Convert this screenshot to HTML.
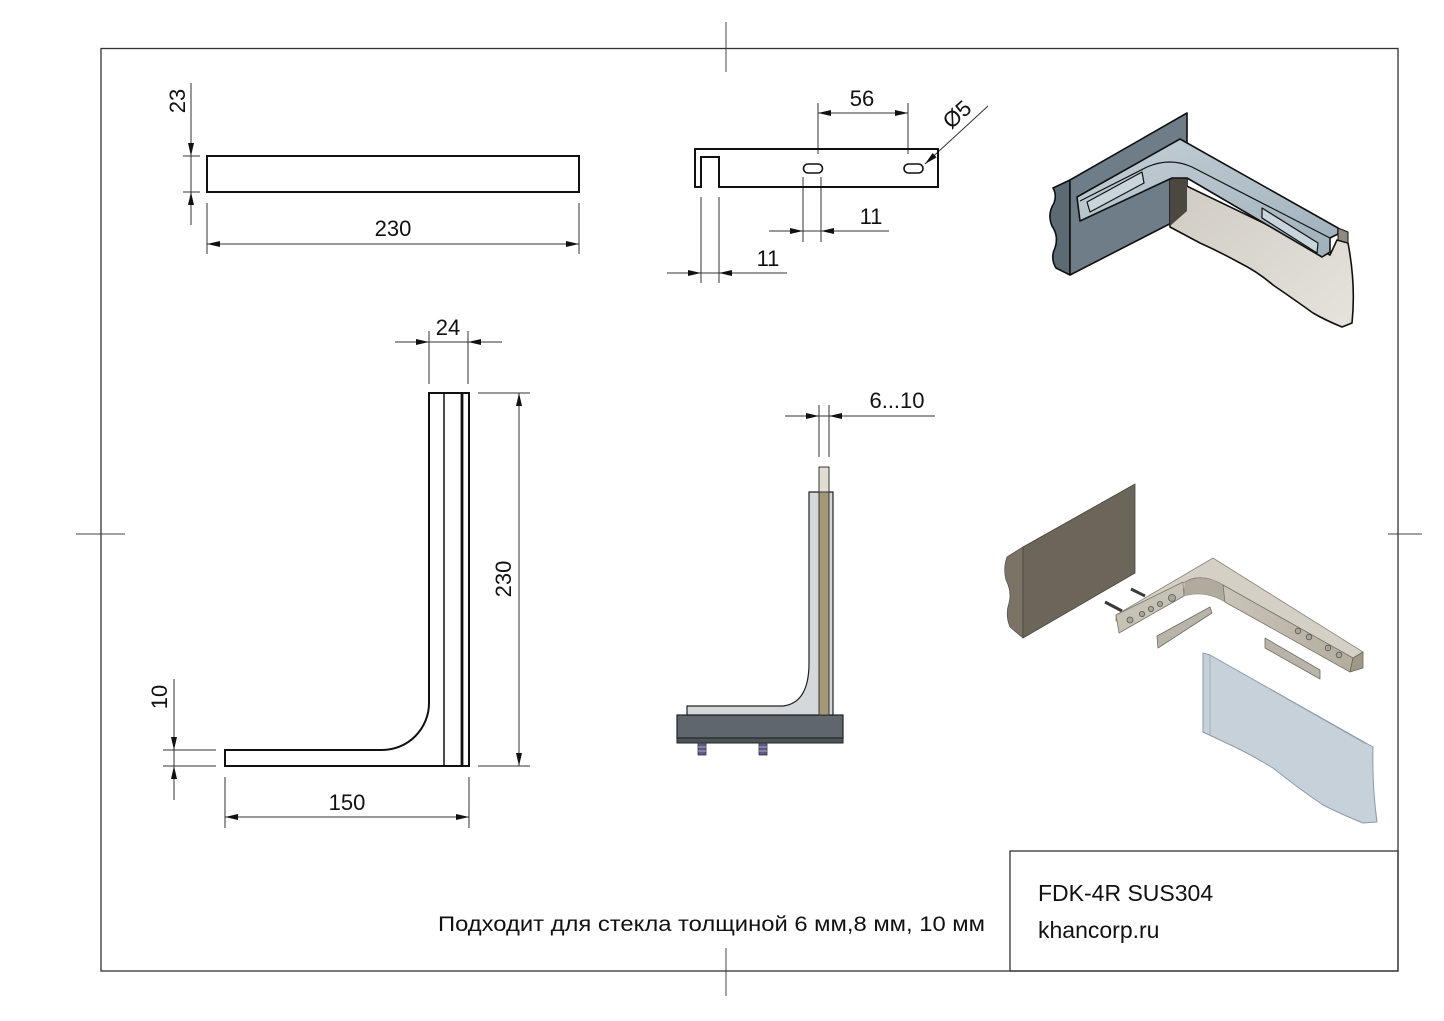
<!DOCTYPE html>
<html><head><meta charset="utf-8"><style>
html,body{margin:0;padding:0;background:#fff;overflow:hidden}
svg{display:block}
text{font-family:"Liberation Sans",Arial,sans-serif;fill:#111}
</style></head><body>
<svg width="1444" height="1021" viewBox="0 0 1444 1021" xmlns="http://www.w3.org/2000/svg">
<defs>
<linearGradient id="gBr" x1="0" y1="0" x2="1" y2="1"><stop offset="0" stop-color="#c5d0d7"/><stop offset="1" stop-color="#9fb0bb"/></linearGradient>
<linearGradient id="gGl" x1="0" y1="0" x2="1" y2="1"><stop offset="0" stop-color="#cfcbc2"/><stop offset="1" stop-color="#e6e3dd"/></linearGradient>
<linearGradient id="gBe" x1="0" y1="0" x2="1" y2="0"><stop offset="0" stop-color="#c9c4b8"/><stop offset="1" stop-color="#b3ad9f"/></linearGradient>
</defs>

<!-- frame -->
<rect x="101" y="48.5" width="1297" height="922.5" fill="none" stroke="#333" stroke-width="1.3"/>
<line x1="726" y1="22" x2="726" y2="72" stroke="#444" stroke-width="1"/>
<line x1="726" y1="948" x2="726" y2="996" stroke="#444" stroke-width="1"/>
<line x1="76" y1="534" x2="125" y2="534" stroke="#444" stroke-width="1"/>
<line x1="1388" y1="534" x2="1422" y2="534" stroke="#444" stroke-width="1"/>

<!-- title block -->
<rect x="1010" y="851" width="388" height="120" fill="none" stroke="#333" stroke-width="1.3"/>
<text x="1038" y="901" font-size="23">FDK-4R SUS304</text>
<text x="1038" y="938" font-size="23">khancorp.ru</text>
<text x="438" y="931" font-size="21" textLength="547" lengthAdjust="spacingAndGlyphs">Подходит для стекла толщиной 6 мм,8 мм, 10 мм</text>

<g stroke="#333" stroke-width="1" fill="none">
<!-- top view dims -->
<line x1="191" y1="83" x2="191" y2="225"/>
<line x1="183" y1="156" x2="200" y2="156"/>
<line x1="183" y1="192" x2="200" y2="192"/>
<line x1="207" y1="203" x2="207" y2="254"/>
<line x1="579" y1="203" x2="579" y2="254"/>
<line x1="207" y1="244" x2="579" y2="244"/>
<!-- top middle dims -->
<line x1="818" y1="103" x2="818" y2="154"/>
<line x1="908" y1="103" x2="908" y2="154"/>
<line x1="818" y1="113" x2="908" y2="113"/>
<line x1="803" y1="177" x2="803" y2="242"/>
<line x1="821" y1="177" x2="821" y2="242"/>
<line x1="769" y1="231" x2="889" y2="231"/>
<line x1="701" y1="197" x2="701" y2="283"/>
<line x1="719" y1="197" x2="719" y2="283"/>
<line x1="667" y1="273" x2="787" y2="273"/>
<line x1="988" y1="106" x2="925" y2="164"/>
<!-- L view dims -->
<line x1="429" y1="331" x2="429" y2="384"/>
<line x1="468" y1="331" x2="468" y2="384"/>
<line x1="395" y1="342" x2="502" y2="342"/>
<line x1="478" y1="393" x2="530" y2="393"/>
<line x1="478" y1="766" x2="530" y2="766"/>
<line x1="519" y1="393" x2="519" y2="766"/>
<line x1="163" y1="750" x2="216" y2="750"/>
<line x1="163" y1="766" x2="216" y2="766"/>
<line x1="174" y1="679" x2="174" y2="800"/>
<line x1="225" y1="777" x2="225" y2="828"/>
<line x1="469" y1="777" x2="469" y2="828"/>
<line x1="225" y1="817" x2="469" y2="817"/>
<!-- middle view dims -->
<line x1="819" y1="405" x2="819" y2="457"/>
<line x1="829" y1="405" x2="829" y2="457"/>
<line x1="785" y1="416" x2="935" y2="416"/>
</g>

<g fill="#111" stroke="none">
<polygon points="191,156 188,143 194,143"/>
<polygon points="191,192 188,205 194,205"/>
<polygon points="207,244 220,241 220,247"/>
<polygon points="579,244 566,241 566,247"/>
<polygon points="818,113 831,110 831,116"/>
<polygon points="908,113 895,110 895,116"/>
<polygon points="803,231 790,228 790,234"/>
<polygon points="821,231 834,228 834,234"/>
<polygon points="701,273 688,270 688,276"/>
<polygon points="719,273 732,270 732,276"/>
<polygon points="925,164 936.6,157.4 932.6,153"/>
<polygon points="429,342 416,339 416,345"/>
<polygon points="468,342 481,339 481,345"/>
<polygon points="519,393 516,406 522,406"/>
<polygon points="519,766 516,753 522,753"/>
<polygon points="174,750 171,737 177,737"/>
<polygon points="174,766 171,779 177,779"/>
<polygon points="225,817 238,814 238,820"/>
<polygon points="469,817 456,814 456,820"/>
<polygon points="819,416 806,413 806,419"/>
<polygon points="829,416 842,413 842,419"/>
</g>

<!-- dim texts -->
<g font-size="22" text-anchor="middle">
<text transform="translate(185,101) rotate(-90)">23</text>
<text x="393" y="236">230</text>
<text x="862" y="106">56</text>
<text x="871" y="224">11</text>
<text x="768" y="266">11</text>
<text transform="translate(962,120) rotate(-42)">Ø5</text>
<text x="448" y="335">24</text>
<text transform="translate(511,579) rotate(-90)">230</text>
<text transform="translate(167,697) rotate(-90)">10</text>
<text x="347" y="810">150</text>
<text x="897" y="408">6...10</text>
</g>

<!-- top view part -->
<rect x="207" y="156" width="372" height="36" fill="none" stroke="#111" stroke-width="2"/>
<!-- top middle part -->
<path d="M695,149 L938,149 L938,187 L719,187 L719,157 L701,157 L701,187 L695,187 Z" fill="none" stroke="#111" stroke-width="2"/>
<rect x="803.5" y="164" width="19" height="9" rx="4.5" fill="none" stroke="#111" stroke-width="1.6"/>
<rect x="904" y="164" width="19" height="9" rx="4.5" fill="none" stroke="#111" stroke-width="1.6"/>

<!-- L view -->
<path d="M429,393 L469,393 L469,766 L225,766 L225,750 L382,750 A47,47 0 0 0 429,703 Z" fill="none" stroke="#111" stroke-width="2"/>
<line x1="444" y1="393" x2="444" y2="766" stroke="#111" stroke-width="1.5"/>
<line x1="462" y1="393" x2="462" y2="766" stroke="#111" stroke-width="2.8"/>

<!-- middle side view -->
<rect x="677" y="715" width="166" height="23" fill="#5f676c" stroke="#222" stroke-width="1.2"/>
<rect x="677" y="738" width="166" height="5" fill="#4d5458" stroke="#222" stroke-width="1"/>
<rect x="698" y="743" width="8" height="12" fill="#5c5c8c" stroke="#333" stroke-width="0.8"/>
<rect x="759" y="743" width="8" height="12" fill="#5c5c8c" stroke="#333" stroke-width="0.8"/>
<line x1="698" y1="747" x2="706" y2="747" stroke="#aab" stroke-width="1"/>
<line x1="698" y1="751" x2="706" y2="751" stroke="#aab" stroke-width="1"/>
<line x1="759" y1="747" x2="767" y2="747" stroke="#aab" stroke-width="1"/>
<line x1="759" y1="751" x2="767" y2="751" stroke="#aab" stroke-width="1"/>
<path d="M687,706 L783,706 Q809,703 809,663 L809,492 L833,492 L833,715 L687,715 Z" fill="#d4d8da" stroke="#222" stroke-width="1.2"/>
<rect x="819" y="467" width="10" height="25" fill="#e2ddd2" stroke="#333" stroke-width="1"/>
<rect x="819" y="492" width="10" height="223" fill="#a59877" stroke="#333" stroke-width="1"/>

<!-- top right 3D -->
<g stroke="#111" stroke-width="1.6" stroke-linejoin="round">
<path d="M1053,188 L1070,180 L1070,275 L1056,268 Q1050,258 1055,248 Q1059,236 1052,226 Q1047,214 1054,203 Q1057,195 1053,188 Z" fill="#5c6a74"/>
<polygon points="1070,180 1187,113 1187,215 1070,275" fill="#6e7d88"/>
<path d="M1170,178 L1330,255 L1337,240 L1348,243 Q1356,285 1352,323 L1342,327 Q1325,320 1313,313 Q1295,300 1273,285 Q1258,272 1240,263 Q1220,252 1200,243 Q1185,235 1170,227 Z" fill="url(#gGl)"/>
<polygon points="1170,178 1187,171 1187,211 1170,226" fill="#4b4840" stroke="none"/>
<path d="M1077,197 L1180,139 L1338,228 L1338,234 L1330,238 L1330,252 L1322,257 L1187,178 L1172,178 L1080,221 Z" fill="url(#gBr)"/>
<path d="M1080,201 L1147,167 Q1170,157 1192,167 L1330,238" fill="none" stroke="#111" stroke-width="1.2"/>
<polygon points="1087,202 1142,172 1144,183 1090,212" fill="#c9d4db" stroke-width="1.2"/>
<polygon points="1262,208 1318,243 1317,253 1262,218" fill="#c9d4db" stroke-width="1.2"/>
<polygon points="1338,228 1348,232 1348,243 1338,240" fill="#8f8a80" stroke-width="1"/>
</g>

<!-- bottom right exploded 3D -->
<g stroke-linejoin="round">
<path d="M1007,557 L1023,547 L1023,638 L1010,627 Q1005,615 1009,603 Q1012,592 1006,580 Q1003,568 1007,557 Z" fill="#7b7466" stroke="#555" stroke-width="0.8"/>
<polygon points="1023,547 1135,484 1135,573 1023,638" fill="#6b655a" stroke="#4a463f" stroke-width="0.8"/>
<line x1="1131" y1="589" x2="1145" y2="596" stroke="#3a3a3a" stroke-width="3"/>
<line x1="1105" y1="602" x2="1122" y2="611" stroke="#3a3a3a" stroke-width="3"/>
<path d="M1116,615 L1213,558 L1363,652 L1353,658 L1223,585 Q1200,572 1185,582 L1116,621 Z" fill="#d5d0c5" stroke="#8a857a" stroke-width="0.8"/>
<polygon points="1116,615 1183,582 1184,596 1119,633" fill="#c7c2b6" stroke="#7a756a" stroke-width="0.8"/>
<path d="M1185,582 Q1203,572 1223,585 L1225,602 Q1205,590 1184,596 Z" fill="#b1ab9e" stroke="#8a857a" stroke-width="0.6"/>
<polygon points="1223,585 1353,658 1350,672 1225,602" fill="url(#gBe)" stroke="#7a756a" stroke-width="0.8"/>
<polygon points="1353,658 1363,652 1363,668 1350,672" fill="#9e9888" stroke="#6a6558" stroke-width="0.8"/>
<g fill="#aaa596" stroke="#555" stroke-width="0.8">
<circle cx="1130" cy="620" r="3"/><circle cx="1142" cy="614" r="2.6"/><circle cx="1151" cy="609" r="2.6"/><circle cx="1160" cy="604" r="2.6"/><circle cx="1172" cy="598" r="3.5"/>
<circle cx="1298" cy="631" r="2.8"/><circle cx="1309" cy="637" r="2.8"/><circle cx="1328" cy="648" r="2.8"/><circle cx="1339" cy="655" r="2.8"/>
</g>
<polygon points="1157,636 1210,607 1212,613 1158,648" fill="#b8b4aa" stroke="#6f6b62" stroke-width="0.8"/>
<polygon points="1265,638 1320,670 1320,679 1265,648" fill="#b8b4aa" stroke="#6f6b62" stroke-width="0.8"/>
<path d="M1203,653 L1210,655 L1373,747 Q1372,785 1377,822 L1363,823 Q1343,815 1323,805 Q1298,788 1273,768 Q1255,757 1237,748 Q1220,740 1203,732 Z" fill="#c7d1da" stroke="#8b9aa8" stroke-width="1"/>
<path d="M1210,655 L1210,735 M1210,655 L1366,744" fill="none" stroke="#9aa8b5" stroke-width="0.8"/>
</g>
</svg>
</body></html>
